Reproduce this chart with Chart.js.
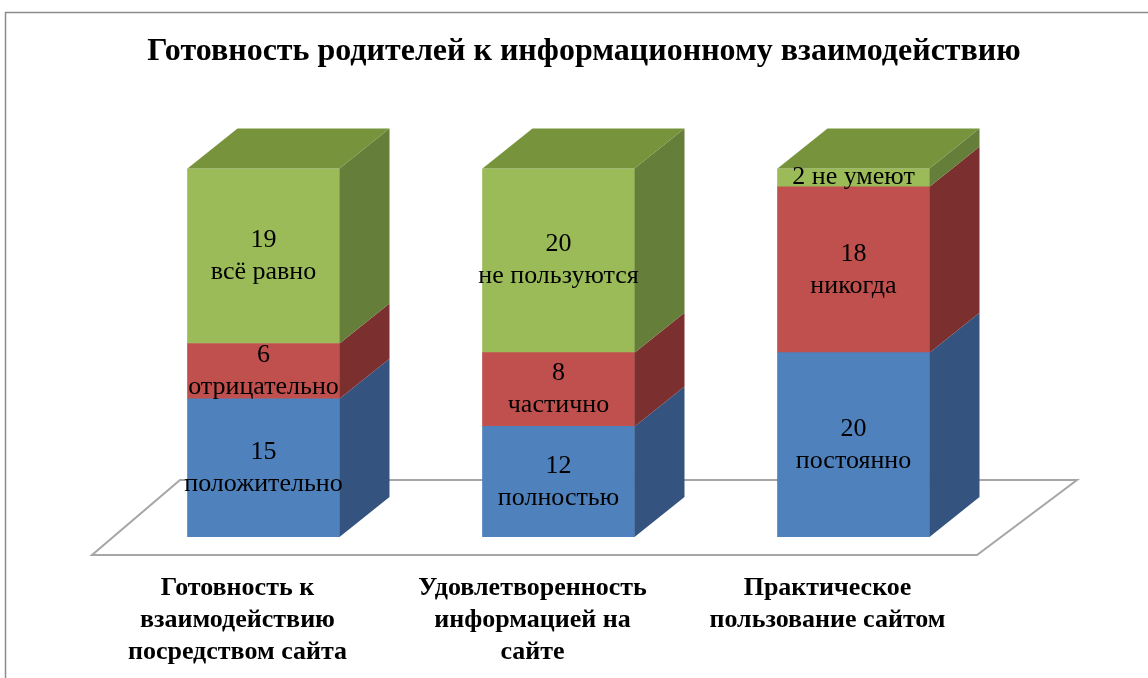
<!DOCTYPE html>
<html>
<head>
<meta charset="utf-8">
<script src="https://cdn.jsdelivr.net/npm/chart.js@4"></script>
<style>
  html, body { margin: 0; padding: 0; background: #fff; }
  #wrap { width: 1148px; height: 678px; }
</style>
</head>
<body>
<div id="wrap"><canvas id="chart" width="1148" height="678"></canvas></div>
<script>
// --- data ---
const categories = [
  ["Готовность к", "взаимодействию", "посредством сайта"],
  ["Удовлетворенность", "информацией на", "сайте"],
  ["Практическое", "пользование сайтом"]
];
const blueValues = [15, 12, 20];
const redValues = [6, 8, 18];
const greenValues = [19, 20, 2];
const blueNotes = ["положительно", "полностью", "постоянно"];
const redNotes = ["отрицательно", "частично", "никогда"];
const greenNotes = ["всё равно", "не пользуются", "не умеют"];
const titleText = "Готовность родителей к информационному взаимодействию";

// side / top shades for the fake 3D look
const sideColors = ['#34547F', '#7B302F', '#657E39'];
const topColor = '#77933C';
const DX = 50, DY = -40;
const SERIF = '"Liberation Serif", "Times New Roman", serif';

const bar3d = {
  id: 'bar3d',
  beforeDraw(chart) {
    const { ctx, width, height } = chart;
    ctx.save();
    ctx.fillStyle = '#fff';
    ctx.fillRect(0, 0, width, height);
    // frame lines (top + left)
    ctx.strokeStyle = '#8c8c8c';
    ctx.lineWidth = 1.5;
    ctx.beginPath();
    ctx.moveTo(5.5, height);
    ctx.lineTo(5.5, 12.5);
    ctx.lineTo(width, 12.5);
    ctx.stroke();
    ctx.restore();
  },
  beforeDatasetsDraw(chart) {
    // floor plane
    const { ctx, chartArea: a } = chart;
    ctx.save();
    ctx.fillStyle = '#fff';
    ctx.strokeStyle = '#a6a6a6';
    ctx.lineWidth = 2;
    ctx.beginPath();
    ctx.moveTo(a.left - 24, a.bottom + 18);
    ctx.lineTo(a.right - 24, a.bottom + 18);
    ctx.lineTo(a.right + 76, a.bottom - 57);
    ctx.lineTo(a.left + 64, a.bottom - 57);
    ctx.closePath();
    ctx.fill();
    ctx.stroke();
    ctx.restore();
  },
  afterDatasetsDraw(chart) {
    const { ctx } = chart;
    const n = chart.data.datasets.length;
    ctx.save();
    chart.data.datasets.forEach((ds, di) => {
      const meta = chart.getDatasetMeta(di);
      meta.data.forEach((bar) => {
        const { x, y, base, width } = bar.getProps(['x', 'y', 'base', 'width'], true);
        const r = x + width / 2, l = x - width / 2;
        // right side
        ctx.fillStyle = sideColors[di];
        ctx.beginPath();
        ctx.moveTo(r, y);
        ctx.lineTo(r + DX, y + DY);
        ctx.lineTo(r + DX, base + DY);
        ctx.lineTo(r, base);
        ctx.closePath();
        ctx.fill();
        // top face only on the last segment of the stack
        if (di === n - 1) {
          ctx.fillStyle = topColor;
          ctx.beginPath();
          ctx.moveTo(l, y);
          ctx.lineTo(l + DX, y + DY);
          ctx.lineTo(r + DX, y + DY);
          ctx.lineTo(r, y);
          ctx.closePath();
          ctx.fill();
        }
      });
    });
    // value labels
    ctx.fillStyle = '#000';
    ctx.font = '26px ' + SERIF;
    ctx.textAlign = 'center';
    ctx.textBaseline = 'middle';
    chart.data.datasets.forEach((ds, di) => {
      const meta = chart.getDatasetMeta(di);
      meta.data.forEach((bar, i) => {
        const { x, y, base } = bar.getProps(['x', 'y', 'base'], true);
        const cy = (y + base) / 2;
        const val = ds.data[i], note = ds.notes[i];
        if (base - y < 40) {
          ctx.fillText(val + ' ' + note, x, cy);
        } else {
          ctx.fillText(String(val), x, cy - 16);
          ctx.fillText(note, x, cy + 16);
        }
      });
    });
    ctx.restore();
  }
};

new Chart(document.getElementById('chart'), {
  type: 'bar',
  data: {
    labels: categories,
    datasets: [
      { label: 'blue', data: blueValues, notes: blueNotes, backgroundColor: '#4F81BD' },
      { label: 'red', data: redValues, notes: redNotes, backgroundColor: '#C0504D' },
      { label: 'green', data: greenValues, notes: greenNotes, backgroundColor: '#9BBB59' }
    ]
  },
  options: {
    responsive: false,
    animation: false,
    layout: { padding: { left: 116, right: 96, top: 0, bottom: 8 } },
    datasets: { bar: { barThickness: 152, borderWidth: 0 } },
    plugins: {
      legend: { display: false },
      tooltip: { enabled: false },
      title: {
        display: true,
        text: titleText,
        color: '#000',
        font: { family: SERIF, size: 32, weight: 'bold', lineHeight: 1.2 },
        padding: { top: 33, bottom: 97 }
      }
    },
    scales: {
      x: {
        stacked: true,
        grid: { display: false, drawTicks: false },
        border: { display: false },
        afterFit(scale) { scale.height = 133; },
        ticks: {
          color: '#000',
          padding: 35,
          labelOffset: -26,
          maxRotation: 0,
          autoSkip: false,
          font: { family: SERIF, size: 26, weight: 'bold', lineHeight: 1.23 }
        }
      },
      y: {
        stacked: true,
        position: 'right',
        min: 0,
        max: 40,
        // invisible axis, only reserves room on the right
        grid: { display: false, drawTicks: false },
        border: { display: false },
        ticks: { display: false },
        afterFit(scale) { scale.width = 51; }
      }
    }
  },
  plugins: [bar3d]
});
</script>
</body>
</html>
